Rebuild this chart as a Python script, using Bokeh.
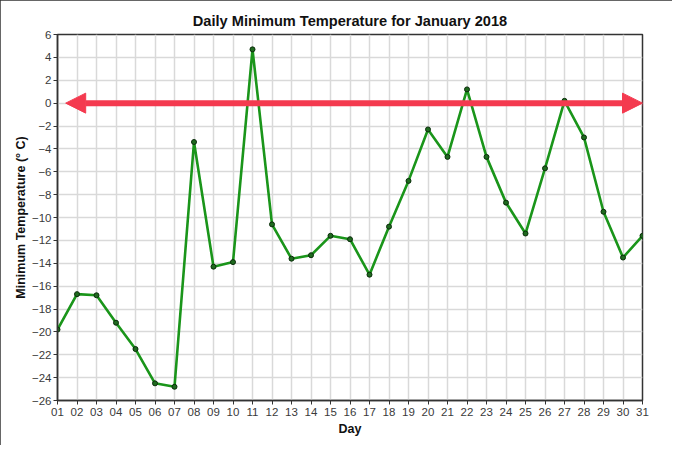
from bokeh.plotting import figure
from bokeh.models import Range1d, FixedTicker, Arrow, NormalHead, ColumnDataSource
from bokeh.embed import file_html
from bokeh.resources import INLINE

days = list(range(1, 32))
day_labels = ["01", "02", "03", "04", "05", "06", "07", "08", "09", "10",
              "11", "12", "13", "14", "15", "16", "17", "18", "19", "20",
              "21", "22", "23", "24", "25", "26", "27", "28", "29", "30", "31"]
min_temp = [-19.8, -16.7, -16.8, -19.2, -21.5, -24.5, -24.8, -3.4, -14.3, -13.9,
            4.7, -10.6, -13.6, -13.3, -11.6, -11.9, -15.0, -10.8, -6.8, -2.3,
            -4.7, 1.2, -4.7, -8.7, -11.4, -5.7, 0.2, -3.0, -9.5, -13.5, -11.6]
y_ticks = [-26, -24, -22, -20, -18, -16, -14, -12, -10, -8, -6, -4, -2, 0, 2, 4, 6]
y_tick_labels = ["\u221226", "\u221224", "\u221222", "\u221220", "\u221218", "\u221216",
                 "\u221214", "\u221212", "\u221210", "\u22128", "\u22126", "\u22124",
                 "\u22122", "0", "2", "4", "6"]
arrow_x = [1.42, 31.0]
arrow_y = [0.0, 0.0]

FONT = "Liberation Sans"

p = figure(width=672, height=445, output_backend="svg", toolbar_location=None,
           x_range=Range1d(1, 31), y_range=Range1d(-26, 6),
           min_border_left=57, min_border_right=30, min_border_top=34, min_border_bottom=45,
           title="Daily Minimum Temperature for January 2018")
p.styles = {"outline": "2px solid #333333", "outline-offset": "-2px"}

p.title.text_font = FONT
p.title.text_font_size = "14.6px"
p.title.text_font_style = "bold"
p.title.text_color = "#111111"
p.title.align = "center"
p.title.offset = -9
p.title.standoff = 4
p.title.padding = 4

p.xaxis.ticker = FixedTicker(ticks=days)
p.xaxis.major_label_overrides = {d: s for d, s in zip(days, day_labels)}
p.yaxis.ticker = FixedTicker(ticks=y_ticks)
p.yaxis.major_label_overrides = {t: s for t, s in zip(y_ticks, y_tick_labels)}
p.xaxis.minor_tick_line_color = None
p.yaxis.minor_tick_line_color = None

for ax in (p.xaxis, p.yaxis):
    ax.axis_line_color = "#333333"
    ax.axis_line_width = 1.5
    ax.major_tick_line_color = "#333333"
    ax.major_tick_line_width = 1
    ax.major_tick_in = 0
    ax.major_tick_out = 4
    ax.major_label_text_font = FONT
    ax.major_label_text_font_size = "11.5px"
    ax.major_label_text_color = "#3a3a3a"
    ax.axis_label_text_font = FONT
    ax.axis_label_text_font_size = "12.5px"
    ax.axis_label_text_font_style = "bold"
    ax.axis_label_text_color = "#111111"

p.xaxis.axis_label = "Day"
p.yaxis.axis_label = "Minimum Temperature (\u00b0 C)"
p.xaxis.major_label_standoff = 3
p.yaxis.major_label_standoff = 2
p.xaxis.axis_label_standoff = 3
p.yaxis.axis_label_standoff = 1

p.xgrid.grid_line_color = "#d9d9d9"
p.ygrid.grid_line_color = "#d9d9d9"
p.xgrid.grid_line_width = 1.5
p.ygrid.grid_line_width = 1.5
p.xgrid.ticker = FixedTicker(ticks=days)
p.ygrid.ticker = FixedTicker(ticks=y_ticks)

p.outline_line_color = "#333333"
p.outline_line_width = 1.5
p.background_fill_color = "white"
p.border_fill_color = "white"

src = ColumnDataSource(data=dict(day=days, temp=min_temp))
p.line("day", "temp", source=src, line_color="#1a951a", line_width=2.6)
p.scatter("day", "temp", source=src, size=5, fill_color="#1f6a1f", line_color="#0b2d0b", line_width=1)

head = dict(size=20, fill_color="#f43a4f", line_color="#f43a4f", line_width=1)
p.add_layout(Arrow(start=NormalHead(**head), end=NormalHead(**head),
                   x_start=arrow_x[0], y_start=arrow_y[0], x_end=arrow_x[1], y_end=arrow_y[1],
                   line_color="#f43a4f", line_width=6))

open("out.html", "w").write(file_html(p, INLINE))
